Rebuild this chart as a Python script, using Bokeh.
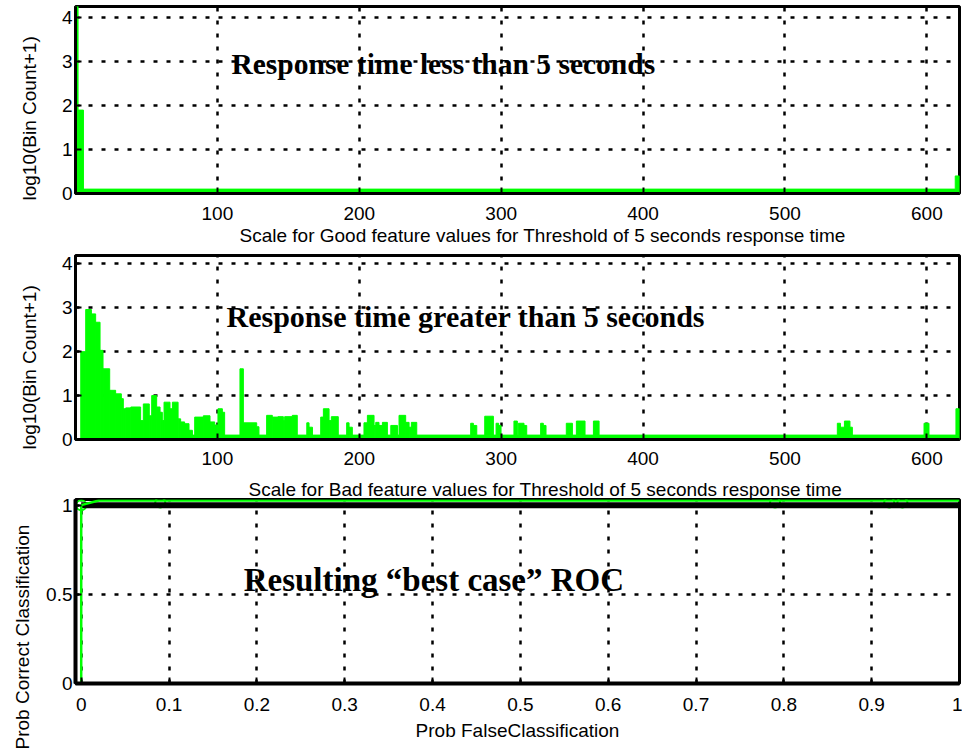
import math
from bokeh.plotting import figure
from bokeh.layouts import column
from bokeh.models import Label, FixedTicker, Range1d, NumeralTickFormatter, Title
from bokeh.embed import file_html
from bokeh.resources import INLINE

# ---------------- data ----------------
# Panel 1: histogram of "good" feature values (bin edges / log10(count+1))
good_edges = [0.0, 1.8, 5.6, 620.0, 623.0]
good_heights = [4.3, 1.9, 0.1, 0.4]

# Panel 2: histogram of "bad" feature values (bin edges / log10(count+1))
bad_edges = [0.0, 3.7, 7.2, 11.2, 14.2, 17.3, 19.4, 24.1, 28.3, 32.3, 33.7, 35.4,
             39.0, 45.9, 47.8, 52.0, 53.7, 57.2, 59.6, 61.2, 62.4, 66.6, 68.3,
             72.3, 74.1, 76.9, 80.0, 82.4, 84.0, 90.1, 94.8, 98.1, 100.4, 103.5,
             105.1, 115.9, 118.3, 127.7, 129.3, 134.7, 138.7, 142.7, 146.5, 147.4,
             152.8, 156.3, 163.0, 164.6, 167.0, 172.8, 174.7, 178.7, 180.3, 185.2,
             191.1, 192.8, 195.1, 203.3, 205.7, 210.4, 211.6, 213.9, 216.3, 219.8,
             222.2, 226.9, 228.0, 232.7, 235.1, 236.7, 240.5, 278.5, 280.4, 282.8,
             288.4, 294.5, 296.4, 298.2, 299.9, 309.0, 311.4, 312.1, 316.1, 318.0,
             327.8, 329.7, 331.6, 345.9, 350.2, 353.0, 359.1, 365.0, 369.0, 536.9,
             539.1, 541.9, 545.8, 547.5, 598.0, 601.5, 620.5, 623.0]
bad_heights = [0.0, 2.0, 2.96, 2.86, 2.67, 2.03, 1.61, 1.12, 1.04, 0.93, 0.70,
               0.72, 0.74, 0.43, 0.81, 0.54, 1.0, 0.74, 0.62, 0.43, 0.85, 0.70,
               0.85, 0.47, 0.40, 0.36, 0.21, 0.1, 0.51, 0.54, 0.40, 0.33, 0.70,
               0.62, 0.1, 1.61, 0.38, 0.29, 0.1, 0.55, 0.51, 0.52, 0.43, 0.52,
               0.55, 0.1, 0.38, 0.28, 0.1, 0.51, 0.70, 0.43, 0.52, 0.1, 0.38,
               0.28, 0.1, 0.38, 0.55, 0.32, 0.39, 0.32, 0.39, 0.1, 0.32, 0.1,
               0.55, 0.39, 0.28, 0.39, 0.1, 0.37, 0.32, 0.1, 0.53, 0.1, 0.37,
               0.32, 0.1, 0.42, 0.1, 0.37, 0.32, 0.1, 0.37, 0.32, 0.1, 0.37,
               0.1, 0.42, 0.1, 0.42, 0.1, 0.37, 0.28, 0.42, 0.28, 0.1, 0.37,
               0.1, 0.70]

# Panel 3: ROC curves
roc_fpr = [0.0, 0.0, 0.02, 0.09, 0.79, 0.92, 0.935, 1.0]
roc_tpr = [0.0, 1.0, 1.026, 1.026, 1.026, 1.026, 1.026, 1.026]
roc_marker_fpr = [0.0, 0.09, 0.79, 0.92, 0.935]
roc_marker_tpr = [1.0, 1.015, 1.015, 1.015, 1.015]
ref_fpr = [0.0, 1.0]
ref_tpr = [1.0, 1.0]

hist_xticks = [100, 200, 300, 400, 500, 600]
hist_yticks = [0, 1, 2, 3, 4]
roc_xticks = [0, 0.1, 0.2, 0.3, 0.4, 0.5, 0.6, 0.7, 0.8, 0.9, 1]
roc_yticks = [0, 0.5, 1]

titles = ["Response time less than 5 seconds",
          "Response time greater than 5 seconds",
          "Resulting \u201cbest case\u201d ROC"]
xlabels = ["Scale for Good feature values for Threshold of 5 seconds response time",
           "Scale for Bad feature values for Threshold of 5 seconds response time",
           "Prob FalseClassification"]
ylabels = ["log10(Bin Count+1)", "log10(Bin Count+1)", "Prob Correct Classification"]

GREEN = "#00ff00"
SANS = "Liberation Sans"
SERIF = "Liberation Serif"
W = 962


def make_fig(height, top, bottom, x_range, y_range):
    p = figure(width=W, height=height, x_range=x_range, y_range=y_range,
               output_backend="svg", toolbar_location=None,
               min_border_left=75, min_border_right=3,
               min_border_top=top, min_border_bottom=bottom)
    p.outline_line_color = "black"
    p.outline_line_width = 3
    p.outline_line_alpha = 1
    p.background_fill_color = "white"
    p.border_fill_color = "white"
    p.grid.grid_line_color = "black"
    p.grid.grid_line_dash = "4 9"
    p.grid.grid_line_width = 2.5
    p.grid.grid_line_alpha = 1
    for ax in p.axis:
        ax.axis_line_color = "black"
        ax.axis_line_width = 3
        ax.major_tick_in = 6
        ax.major_tick_out = 0
        ax.major_tick_line_width = 2
        ax.major_tick_line_color = "black"
        ax.minor_tick_line_color = None
        ax.major_label_text_font = SANS
        ax.major_label_text_font_size = "19px"
        ax.major_label_text_color = "black"
    p.yaxis.major_label_standoff = 3
    return p


def add_label_title(p, text, place, align, offset, standoff, valign="bottom"):
    p.add_layout(Title(text=text, align=align, offset=offset, standoff=standoff,
                       vertical_align=valign,
                       text_font=SANS, text_font_size="19px",
                       text_font_style="normal", text_color="black"), place)


def add_text(p, text, x, y, size):
    p.add_layout(Label(x=x, y=y, text=text, text_font=SERIF, text_font_size=size,
                       text_font_style="bold", text_color="black",
                       text_baseline="alphabetic", text_align="left"))


# ---------- panel 1 ----------
p1 = make_fig(254, 6, 61, Range1d(0, 623), Range1d(0, 4.26))
p1.quad(left=good_edges[:-1], right=good_edges[1:], bottom=0, top=good_heights,
        fill_color=GREEN, line_color=GREEN, line_width=1)
p1.xaxis.ticker = FixedTicker(ticks=hist_xticks)
p1.yaxis.ticker = FixedTicker(ticks=hist_yticks)
p1.xaxis.major_label_standoff = 13
add_text(p1, titles[0], 109.9, 2.94, "29.5px")
add_label_title(p1, xlabels[0], "below", "left", 164, 0)
add_label_title(p1, ylabels[0], "left", "left", -7, 34, valign="top")

# ---------- panel 2 ----------
p2 = make_fig(222, 1, 37, Range1d(0, 623), Range1d(0, 4.19))
p2.quad(left=bad_edges[:-1], right=bad_edges[1:], bottom=0, top=bad_heights,
        fill_color=GREEN, line_color=GREEN, line_width=1)
p2.xaxis.ticker = FixedTicker(ticks=hist_xticks)
p2.yaxis.ticker = FixedTicker(ticks=hist_yticks)
p2.xaxis.major_label_standoff = 12
add_text(p2, titles[1], 106.4, 2.80, "30px")
add_label_title(p2, ylabels[1], "left", "left", -10, 34, valign="top")

# ---------- panel 3 ----------
p3 = make_fig(276, 21, 69, Range1d(-0.0065, 1.0), Range1d(0, 1.0316))
p3.scatter(roc_marker_fpr, roc_marker_tpr, marker="circle", size=10,
           fill_color=None, line_color=GREEN, line_width=2)
p3.line(ref_fpr, ref_tpr, line_color="black", line_width=6)
p3.line(roc_fpr, roc_tpr, line_color=GREEN, line_width=2.5)
p3.xaxis.ticker = FixedTicker(ticks=roc_xticks)
p3.yaxis.ticker = FixedTicker(ticks=roc_yticks)
p3.xaxis.formatter = NumeralTickFormatter(format="0.[0]")
p3.yaxis.formatter = NumeralTickFormatter(format="0.[0]")
p3.xaxis.major_label_standoff = 14
p3.xaxis.axis_line_width = 4
p3.yaxis.axis_line_width = 4
add_text(p3, titles[2], 0.185, 0.582, "33px")
# the middle panel's x-axis label sits in the strip just above this frame
add_label_title(p3, xlabels[1], "above", "left", 173, 0)
add_label_title(p3, xlabels[2], "below", "center", 0, 9)
add_label_title(p3, ylabels[2], "left", "left", -66, 18, valign="top")

layout = column(p1, p2, p3, spacing=0)
with open("out.html", "w") as f:
    f.write(file_html(layout, INLINE))
